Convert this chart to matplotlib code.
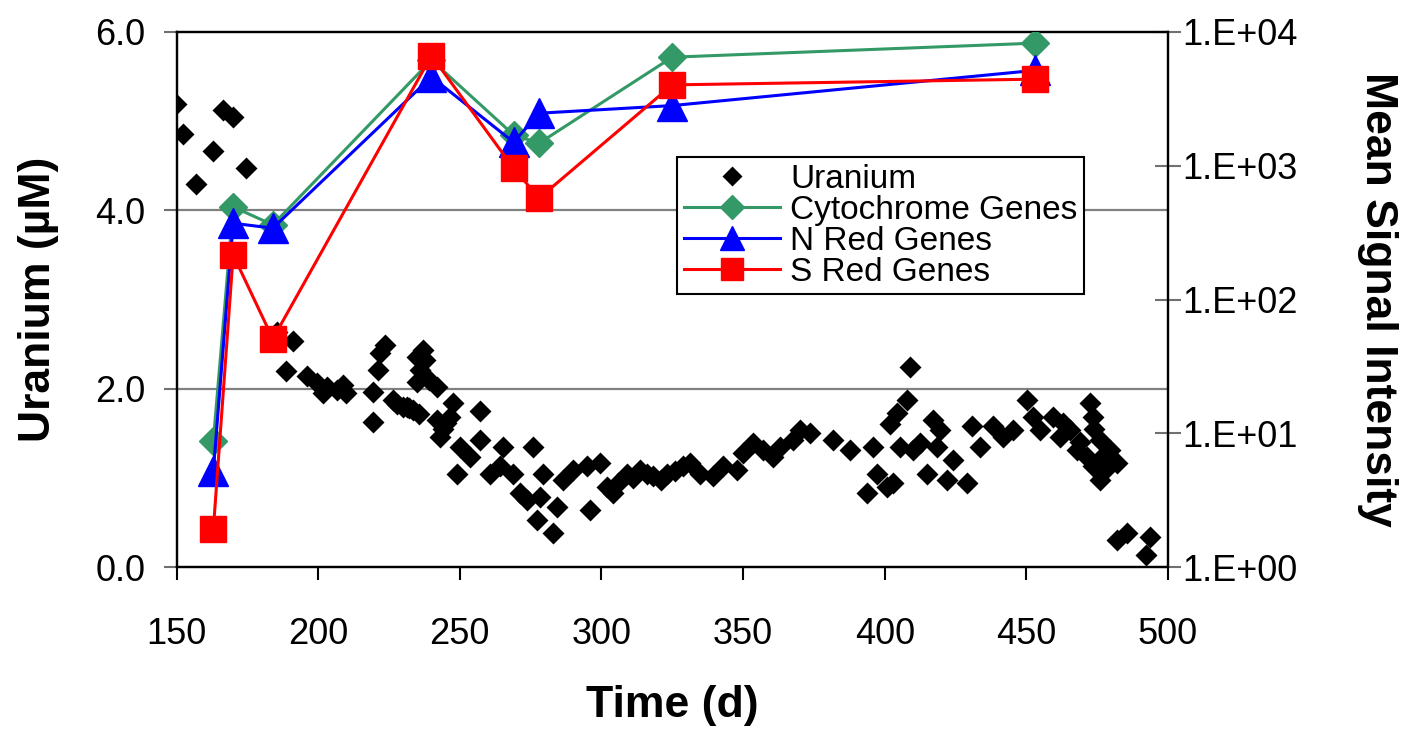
import math
import matplotlib
matplotlib.use("Agg")
import matplotlib.pyplot as plt
from matplotlib.ticker import FixedLocator, FuncFormatter, NullLocator

plt.rcParams['font.family'] = ['Liberation Sans', 'DejaVu Sans']

# Uranium concentration over time (left axis, uM)
uranium_t = [149.8, 152.2, 156.9, 162.8, 166.3, 169.8, 174.5, 185.4, 188.7, 191.2,
             196.0, 199.5, 201.7, 203.0, 206.5, 208.8, 210.0, 219.2, 219.5, 221.2,
             221.8, 223.6, 226.5, 228.0, 230.0, 231.3, 232.0, 233.6, 234.8, 234.8,
             235.5, 236.0, 237.1, 237.7, 239.0, 241.8, 241.8, 243.0, 244.0, 245.0,
             246.5, 247.7, 248.9, 250.1, 253.6, 257.1, 257.1, 260.7, 264.2, 265.4,
             268.9, 271.2, 273.6, 275.9, 277.1, 278.3, 279.5, 283.0, 284.2, 286.5,
             290.0, 294.8, 296.0, 299.5, 301.8, 304.2, 306.0, 308.9, 311.0, 313.6,
             316.0, 318.3, 321.0, 323.0, 326.0, 328.9, 331.3, 334.8, 339.5, 343.0,
             347.7, 350.1, 353.6, 357.1, 360.7, 363.0, 367.7, 370.1, 373.6, 381.8,
             387.7, 393.6, 396.0, 397.2, 400.7, 401.8, 403.0, 404.2, 405.4, 407.8,
             408.9, 410.1, 412.4, 414.8, 417.1, 418.3, 419.5, 421.9, 424.2, 428.9,
             430.7, 433.6, 438.3, 441.8, 445.4, 450.1, 452.4, 454.8, 459.5, 461.9,
             463.0, 465.4, 467.8, 469.0, 471.3, 472.4, 473.6, 473.6, 474.0, 476.0,
             476.0, 477.0, 478.0, 479.5, 480.0, 481.9, 481.9, 485.4, 492.4, 493.6]
uranium_um = [5.19, 4.86, 4.30, 4.67, 5.13, 5.05, 4.48, 2.64, 2.20, 2.54,
              2.14, 2.06, 1.95, 2.02, 1.99, 2.04, 1.95, 1.63, 1.97, 2.21,
              2.40, 2.49, 1.88, 1.83, 1.80, 1.80, 1.78, 1.76, 2.36, 2.08,
              1.72, 2.21, 2.44, 2.32, 2.10, 2.02, 1.65, 1.46, 1.55, 1.62,
              1.69, 1.84, 1.05, 1.35, 1.24, 1.75, 1.43, 1.05, 1.13, 1.35,
              1.05, 0.83, 0.75, 1.35, 0.53, 0.79, 1.05, 0.38, 0.68, 0.98,
              1.09, 1.13, 0.64, 1.17, 0.90, 0.83, 0.95, 1.05, 1.00, 1.09,
              1.05, 1.02, 0.98, 1.05, 1.08, 1.13, 1.17, 1.05, 1.02, 1.13,
              1.09, 1.28, 1.39, 1.32, 1.24, 1.35, 1.43, 1.54, 1.50, 1.43,
              1.32, 0.83, 1.35, 1.05, 0.90, 1.61, 0.94, 1.73, 1.35, 1.88,
              2.25, 1.32, 1.39, 1.05, 1.65, 1.35, 1.54, 0.98, 1.20, 0.94,
              1.58, 1.35, 1.58, 1.46, 1.54, 1.88, 1.69, 1.54, 1.69, 1.46,
              1.62, 1.54, 1.32, 1.40, 1.24, 1.84, 1.69, 1.13, 1.55, 1.43,
              0.98, 1.25, 1.10, 1.32, 1.20, 1.17, 0.31, 0.38, 0.14, 0.34]

# Gene signal intensities at sampling days (right axis, log)
gene_t = [163, 170, 184, 240, 269, 278, 325, 453]
cytochrome = [8.8, 493, 362, 6170, 1700, 1476, 6480, 8250]
n_red = [5.25, 372, 342, 4620, 1500, 2472, 2818, 5164]
s_red = [1.92, 216, 50.9, 6660, 959, 573, 4024, 4440]

fig = plt.figure(figsize=(14.11, 7.30), dpi=100)
ax = fig.add_axes([0.1251, 0.2229, 0.7027, 0.7333])
ax2 = ax.twinx()

u_line, = ax.plot(uranium_t, uranium_um, linestyle='none', marker='D',
                  markersize=11.5, color='black', markeredgecolor='none',
                  zorder=3, label='Uranium')
ax.set_xlim(150, 500)
ax.set_ylim(0, 6)
ax.yaxis.set_major_locator(FixedLocator([0, 2, 4, 6]))
ax.yaxis.set_major_formatter(FuncFormatter(lambda v, p: f"{v:.1f}"))
ax.xaxis.set_major_locator(FixedLocator([150, 200, 250, 300, 350, 400, 450, 500]))
for y in (2, 4):
    ax.axhline(y, color='#808080', linewidth=1.6, zorder=1)

ax.tick_params(axis='y', direction='out', length=9.5, width=1.5, color='#707070',
               labelsize=26, pad=13)
ax.tick_params(axis='x', direction='out', length=9.5, width=1.5, color='black',
               labelsize=26, pad=26)
for side in ('left', 'right', 'top', 'bottom'):
    ax.spines[side].set_linewidth(1.6)
    ax2.spines[side].set_linewidth(1.6)

ax.set_xlabel('Time (d)', fontsize=32, fontweight='bold', labelpad=24)
ax.set_ylabel('Uranium (µM)', fontsize=32, fontweight='bold', labelpad=26)

l1, = ax2.plot(gene_t, cytochrome, color='#339966', linewidth=2.2, marker='D',
               markersize=14.5, label='Cytochrome Genes', zorder=3)
l2, = ax2.plot(gene_t, n_red, color='#0000FF', linewidth=2.2, marker='^',
               markersize=21, label='N Red Genes', zorder=4)
l3, = ax2.plot(gene_t, s_red, color='#FF0000', linewidth=2.2, marker='s',
               markersize=18.5, label='S Red Genes', zorder=5)
ax2.set_yscale('log')
ax2.set_ylim(1, 1e4)
ax2.yaxis.set_major_locator(FixedLocator([1, 10, 100, 1000, 10000]))
ax2.yaxis.set_minor_locator(NullLocator())
ax2.yaxis.set_major_formatter(
    FuncFormatter(lambda v, p: f"1.E+{int(round(math.log10(v))):02d}"))
ax2.tick_params(axis='y', direction='inout', length=19, width=1.5, color='#707070',
                labelsize=26, pad=1)
ax2.set_ylabel('Mean Signal Intensity', fontsize=32, fontweight='bold',
               rotation=270, labelpad=72)

leg = ax2.legend([u_line, l1, l2, l3],
                 ['Uranium', 'Cytochrome Genes', 'N Red Genes', 'S Red Genes'],
                 loc='upper left', bbox_to_anchor=(677 / 1411, 1 - 157 / 730),
                 bbox_transform=fig.transFigure, borderaxespad=0,
                 fontsize=24, handlelength=2.9, handletextpad=0.3,
                 labelspacing=0.0, borderpad=0.2, fancybox=False,
                 framealpha=1, edgecolor='black', markerscale=0.85)
leg.get_frame().set_linewidth(1.5)

fig.savefig('out.png', dpi=100)
